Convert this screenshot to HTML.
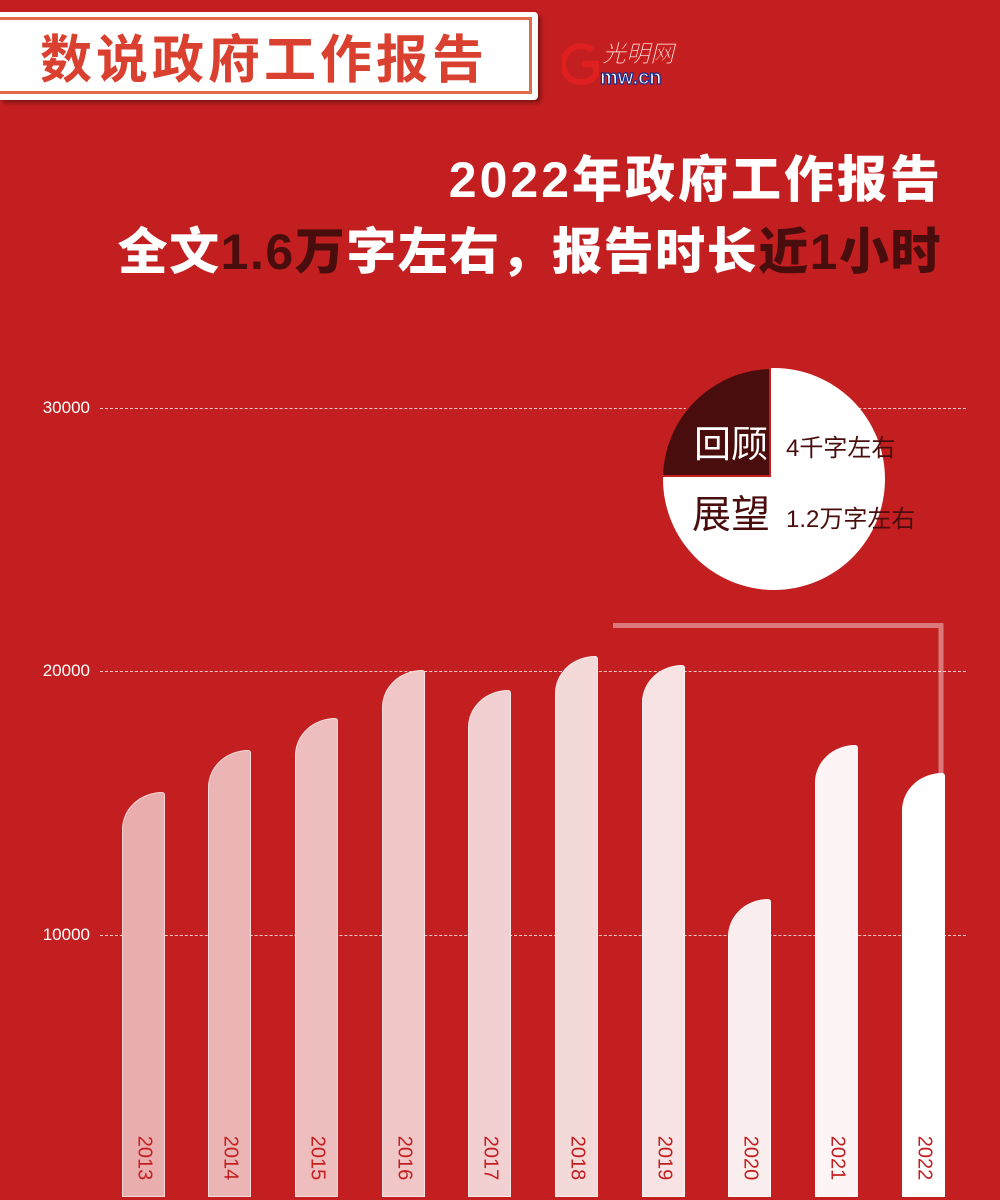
<!DOCTYPE html>
<html><head><meta charset="utf-8"><style>
*{margin:0;padding:0;box-sizing:border-box}
body{width:1000px;height:1200px;background:#c41f20;position:relative;overflow:hidden;font-family:"Liberation Sans","Noto Sans CJK SC",sans-serif}
.hdr{position:absolute;left:0;top:12px;width:538px;height:88px;background:#fff;border-radius:0 4px 4px 0;box-shadow:3px 3px 4px rgba(0,0,0,.35)}
.hdr .in{position:absolute;left:0;top:5px;right:6px;bottom:6px;border:3px solid #e06a4a;border-left:none}
.hdr .t{position:absolute;left:40px;top:14px;font-size:52px;font-weight:bold;color:#d9402f;letter-spacing:4px;font-family:"Noto Sans CJK SC",sans-serif;line-height:60px}
.logo{position:absolute;left:562px;top:36px}
.t1{position:absolute;right:57px;top:150px;font-size:50px;font-weight:900;color:#fff;line-height:60px;letter-spacing:3px}
.t2{position:absolute;right:58px;top:220px;font-size:50px;font-weight:900;color:#fff;line-height:64px;letter-spacing:1.5px}
.t2 b{color:#4a0d0d}
.yl{position:absolute;left:30px;color:#fff;font-size:17px;width:60px;text-align:right}
.dl{position:absolute;left:100px;width:866px;border-top:1.5px dashed rgba(255,255,255,.75)}
.bar{position:absolute;width:43px;bottom:3px;border-radius:43px 3px 0 0/40px 3px 0 0;border:1px solid rgba(255,255,255,.5)}
.bar span{position:absolute;left:50%;top:calc(100% - 38px);transform:translate(-50%,-50%) rotate(90deg);color:#c41f20;font-size:20px;white-space:nowrap}
</style></head><body>
<div class="hdr"><div class="in"></div><div class="t">数说政府工作报告</div></div>
<svg class="logo" width="140" height="55" viewBox="0 0 140 55">
<path d="M30 14 A18 18 0 1 0 34 38 L34 28 L20 28" fill="none" stroke="#e02020" stroke-width="6"/>
<text x="40" y="26" font-size="24" fill="#fff" stroke="#d02020" stroke-width="1" font-family="Noto Sans CJK SC" font-style="italic">光明网</text>
<text x="38" y="48" font-size="20" font-weight="bold" fill="#fff" stroke="#1a2a8a" stroke-width="1.2" font-family="Liberation Sans">mw.cn</text>
</svg>
<div class="t1">2022年政府工作报告</div>
<div class="t2">全文<b>1.6</b><b>万</b>字左右，报告时长<b>近1</b><b>小时</b></div>
<div class="yl" style="top:398px">30000</div><div class="dl" style="top:408px"></div>
<div class="yl" style="top:661px">20000</div><div class="dl" style="top:671px"></div>
<div class="yl" style="top:925px">10000</div><div class="dl" style="top:935px"></div>
<svg style="position:absolute;left:0;top:0" width="1000" height="1200">
<circle cx="774" cy="479" r="111" fill="#fff"/>
<path d="M770 476 L770 368 A111 111 0 0 0 662 476 Z" fill="#4a0d0d" stroke="#c41f20" stroke-width="2"/>
<text x="694" y="457" font-size="37" fill="#fff" font-family="Noto Sans CJK SC">回顾</text>
<text x="786" y="456" font-size="24" fill="#4a0d0d" font-family="Liberation Sans,Noto Sans CJK SC">4千字左右</text>
<text x="692" y="528" font-size="39" fill="#4a0d0d" font-family="Noto Sans CJK SC">展望</text>
<text x="786" y="527" font-size="24" fill="#4a0d0d" font-family="Liberation Sans,Noto Sans CJK SC">1.2万字左右</text>
<path d="M613 625.5 H941 V775" fill="none" stroke="rgba(255,255,255,.4)" stroke-width="5"/>
</svg>
<div class="bar" style="left:122px;top:792px;background:#eaadae"><span>2013</span></div>
<div class="bar" style="left:208px;top:750px;background:#ebb4b5"><span>2014</span></div>
<div class="bar" style="left:295px;top:718px;background:#eebdbd"><span>2015</span></div>
<div class="bar" style="left:382px;top:670px;background:#f0c6c7"><span>2016</span></div>
<div class="bar" style="left:468px;top:690px;background:#f2cfd0"><span>2017</span></div>
<div class="bar" style="left:555px;top:656px;background:#f4d9d9"><span>2018</span></div>
<div class="bar" style="left:642px;top:665px;background:#f7e3e3"><span>2019</span></div>
<div class="bar" style="left:728px;top:899px;background:#faeded"><span>2020</span></div>
<div class="bar" style="left:815px;top:745px;background:#fdf5f5"><span>2021</span></div>
<div class="bar" style="left:902px;top:773px;background:#fff"><span>2022</span></div>
</body></html>
